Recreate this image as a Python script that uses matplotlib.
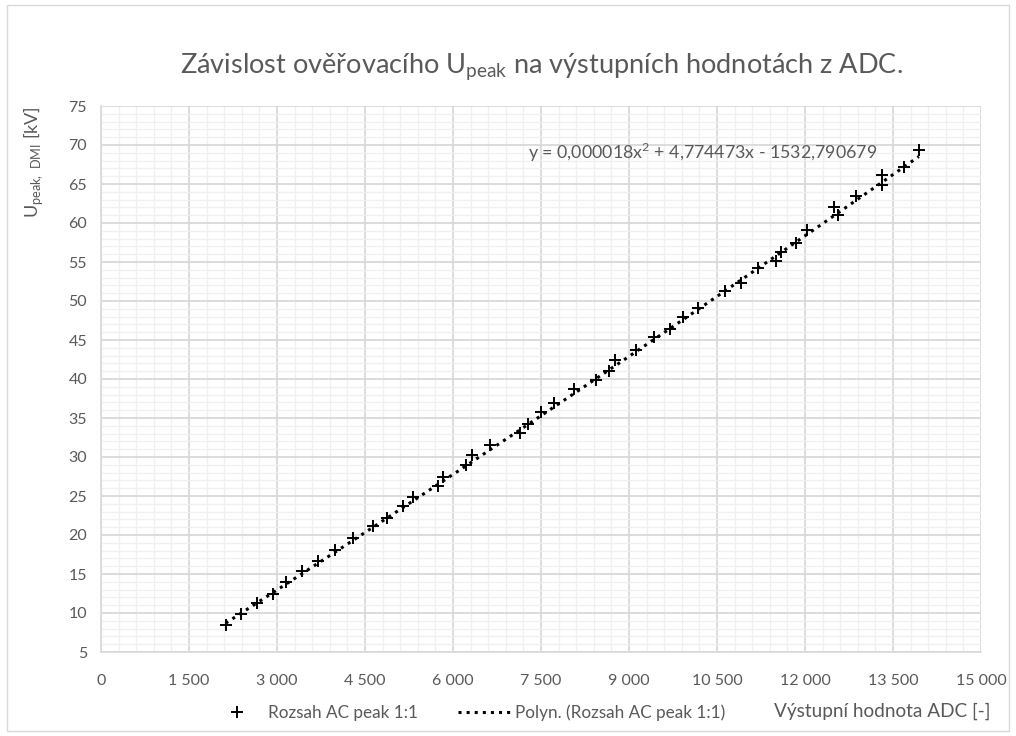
import matplotlib.pyplot as plt
import numpy as np
from matplotlib.ticker import MultipleLocator, FuncFormatter
from matplotlib.lines import Line2D
from matplotlib.patches import Rectangle

plt.rcParams['font.family'] = ['Lato', 'DejaVu Sans']

# measured points: ADC output vs. reference U_peak [kV]
adc = [2124, 2385, 2663, 2925, 3146, 3434, 3702, 3986, 4287, 4640,
       4883, 5150, 5310, 5747, 5832, 6229, 6331, 6627, 7138, 7280,
       7507, 7723, 8058, 8433, 8660, 8756, 9114, 9426, 9693, 9920,
       10180, 10630, 10914, 11197, 11499, 11584, 11851, 12032, 12487, 12560,
       12862, 13316, 13316, 13685, 13940]
u_peak = [8.46, 9.83, 11.24, 12.5, 14.0, 15.38, 16.67, 18.1, 19.65, 21.15,
          22.2, 23.7, 24.9, 26.3, 27.5, 28.97, 30.26, 31.54, 33.1, 34.2,
          35.8, 36.9, 38.7, 39.87, 41.06, 42.4, 43.7, 45.4, 46.4, 47.9,
          49.1, 51.3, 52.3, 54.2, 55.1, 56.3, 57.5, 59.1, 62.1, 61.0,
          63.5, 66.2, 64.9, 67.2, 69.4]

# 2nd order trendline (result in volts)
coef = [0.000018, 4.774473, -1532.790679]

grey = '#595959'

fig = plt.figure(figsize=(10.16, 7.36), dpi=100)
ax = fig.add_axes([101 / 1016, 1 - 652 / 736, 880 / 1016, 546 / 736])

xt = np.linspace(min(adc), max(adc), 300)
ax.plot(xt, np.polyval(coef, xt) / 1000, color='black', linestyle=':', linewidth=2.2, zorder=3)
ax.plot(adc, u_peak, linestyle='none', marker='+', markersize=8, mew=1.4, color='black', zorder=4)

ax.set_xlim(0, 15000)
ax.set_ylim(5, 75)
ax.xaxis.set_major_locator(MultipleLocator(1500))
ax.xaxis.set_minor_locator(MultipleLocator(300))
ax.yaxis.set_major_locator(MultipleLocator(5))
ax.yaxis.set_minor_locator(MultipleLocator(1))
ax.xaxis.set_major_formatter(FuncFormatter(lambda v, p: f"{v:,.0f}".replace(",", " ")))
ax.grid(which='major', color='#D9D9D9', linewidth=1.3)
ax.grid(which='minor', color='#F0F0F0', linewidth=1.0)
ax.set_axisbelow(True)
ax.tick_params(which='both', length=0, labelsize=11.5, labelcolor=grey)
ax.tick_params(axis='x', pad=16)
ax.tick_params(axis='y', pad=10)
for s in ['top', 'right']:
    ax.spines[s].set_visible(False)
for s in ['left', 'bottom']:
    ax.spines[s].set_color('#D9D9D9')
    ax.spines[s].set_linewidth(1.2)

fig.text(541 / 1016, 1 - 66 / 736, 'Závislost ověřovacího U$_\\mathregular{peak}$ na výstupních hodnotách z ADC.',
         ha='center', va='center', fontsize=19.5, color=grey)
fig.text(33 / 1016, 1 - 162 / 736, 'U$_\\mathregular{peak,\\ DMI}$ [kV]', rotation=90,
         ha='center', va='center', fontsize=13, color=grey)
fig.text(990 / 1016, 1 - 711 / 736, 'Výstupní hodnota ADC [-]', ha='right', va='center',
         fontsize=13.7, color=grey)
ax.text(7275, 69.0, 'y = 0,000018x$^\\mathregular{2}$ + 4,774473x - 1532,790679',
        ha='left', va='center', fontsize=12.8, color=grey)

handles = [Line2D([], [], linestyle='none', marker='+', markersize=8, mew=1.4, color='black'),
           Line2D([], [], linestyle=':', linewidth=2.2, color='black')]
fig.legend(handles, ['Rozsah AC peak 1:1', 'Polyn. (Rozsah AC peak 1:1)'],
           loc='center', bbox_to_anchor=(468 / 1016, 1 - 713 / 736), ncol=2, frameon=False,
           fontsize=12.3, labelcolor=grey, handlelength=3.1, columnspacing=2.3, handletextpad=0.25)

fig.patches.append(Rectangle((7 / 1016, 5 / 736), 1002 / 1016, 726 / 736, transform=fig.transFigure,
                             fill=False, edgecolor='#D9D9D9', linewidth=1))

plt.savefig('out.png', dpi=100)
